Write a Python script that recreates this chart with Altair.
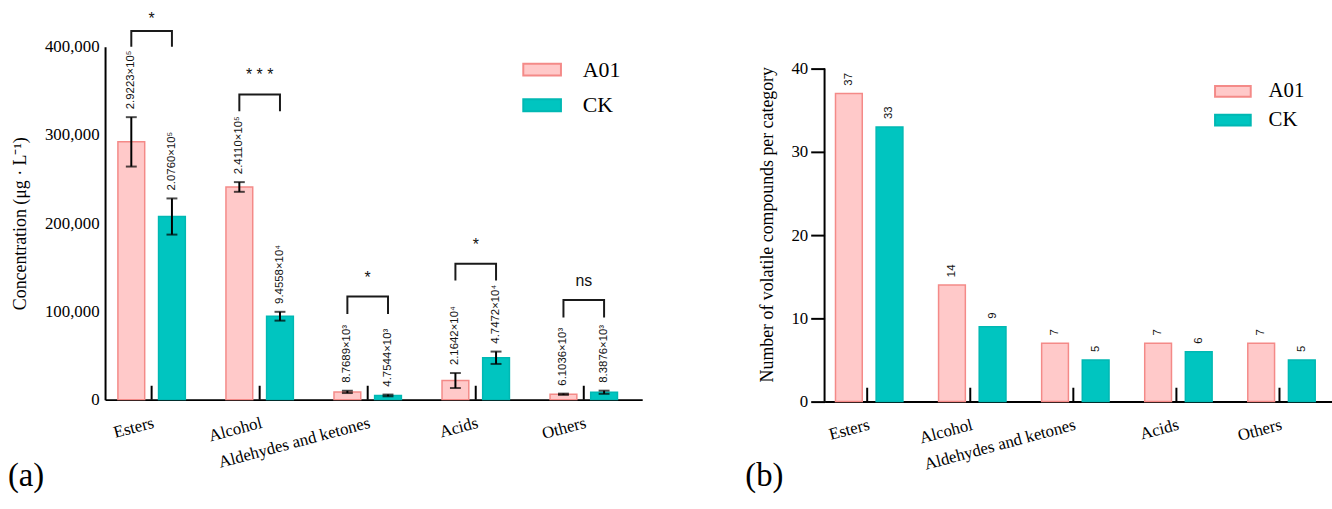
import altair as alt
import pandas as pd

categories = ["Esters", "Alcohol", "Aldehydes and ketones", "Acids", "Others"]
groups = ["A01", "CK"]

# panel (a): concentration
conc_a01 = [292230, 241100, 8768.9, 21642, 6103.6]
conc_ck = [207600, 94558, 4754.4, 47472, 8387.6]
err_a01 = [28000, 5500, 1300, 8500, 700]
err_ck = [20500, 5000, 1000, 7000, 1800]
lab_a01 = ["2.9223×10⁵", "2.4110×10⁵", "8.7689×10³", "2.1642×10⁴", "6.1036×10³"]
lab_ck = ["2.0760×10⁵", "9.4558×10⁴", "4.7544×10³", "4.7472×10⁴", "8.3876×10³"]
sig_marks = ["*", "* * *", "*", "*", "ns"]
sig_top = [418000, 346000, 117000, 154000, 113000]
sig_leg = [400000, 327000, 97000, 135000, 93000]
sig_text_y = [432000, 368000, 138000, 175000, 134000]
y_ticks_a = [0, 100000, 200000, 300000, 400000]

# panel (b): counts
count_a01 = [37, 14, 7, 7, 7]
count_ck = [33, 9, 5, 6, 5]
y_ticks_b = [0, 10, 20, 30, 40]

fills = ["#FFC9C9", "#00C5C0"]
strokes = ["#F48A88", "#00B8B3"]
SERIF = "Liberation Serif"
SANS = "Liberation Sans"

rows = []
for i, c in enumerate(categories):
    rows.append(dict(category=c, group="A01", value=conc_a01[i], lo=conc_a01[i] - err_a01[i],
                     hi=conc_a01[i] + err_a01[i], label=lab_a01[i]))
    rows.append(dict(category=c, group="CK", value=conc_ck[i], lo=conc_ck[i] - err_ck[i],
                     hi=conc_ck[i] + err_ck[i], label=lab_ck[i]))
conc_df = pd.DataFrame(rows)
caps_df = pd.concat([conc_df.assign(cap=conc_df["lo"]), conc_df.assign(cap=conc_df["hi"])])

br_rows = []
for i, c in enumerate(categories):
    br_rows += [dict(category=c, group="A01", yv=sig_leg[i], step=0),
                dict(category=c, group="A01", yv=sig_top[i], step=1),
                dict(category=c, group="CK", yv=sig_top[i], step=2),
                dict(category=c, group="CK", yv=sig_leg[i], step=3)]
br_df = pd.DataFrame(br_rows)
sig_df = pd.DataFrame(dict(category=categories, sig=sig_marks, ty=sig_text_y))
cat_df = pd.DataFrame(dict(category=categories))

cnt_rows = []
for i, c in enumerate(categories):
    cnt_rows.append(dict(category=c, group="A01", n=count_a01[i]))
    cnt_rows.append(dict(category=c, group="CK", n=count_ck[i]))
cnt_df = pd.DataFrame(cnt_rows)

WA, HA = 542, 356
WB, HB = 512, 358
YMAX_B = 42.62


def xenc(pi, po, al):
    return alt.X("category:N", sort=categories,
                 scale=alt.Scale(paddingInner=pi, paddingOuter=po, align=al),
                 axis=alt.Axis(title=None, labelAngle=345, labelAlign="right", labelBaseline="top",
                               labelPadding=15, ticks=False, labelFont=SERIF, labelFontSize=17,
                               labelColor="black", domainColor="black", domainWidth=2,
                               labelOverlap=False, labelLimit=400, labelBound=False))


def xoff(pi):
    return alt.XOffset("group:N", sort=groups, scale=alt.Scale(paddingInner=pi, paddingOuter=0))


def yenc_a(field):
    return alt.Y(field, scale=alt.Scale(domain=[0, 400000], nice=False),
                 axis=alt.Axis(values=y_ticks_a, labelExpr="format(datum.value, ',')",
                               title="Concentration (μg · L⁻¹)",
                               ticks=False, labelPadding=6, labelFont=SERIF, labelFontSize=17,
                               labelColor="black", domainColor="black", domainWidth=2, grid=False,
                               titleFont=SERIF, titleFontSize=18, titleFontWeight="normal",
                               titleColor="black", titlePadding=15))


def yenc_b(field):
    return alt.Y(field, scale=alt.Scale(domain=[0, YMAX_B], nice=False),
                 axis=alt.Axis(values=y_ticks_b, title="Number of volatile compounds per category",
                               domain=False, tickSize=14, tickWidth=2, tickColor="black",
                               labelPadding=3, labelFont=SERIF, labelFontSize=17,
                               labelColor="black", grid=False,
                               titleFont=SERIF, titleFontSize=18, titleFontWeight="normal",
                               titleColor="black", titlePadding=15))


def legend(x, y, path, size, fs, rowpad, loff):
    return alt.Legend(title=None, orient="none", legendX=x, legendY=y, symbolType=path,
                      symbolSize=size, symbolStrokeWidth=2, labelFont=SERIF, labelFontSize=fs,
                      labelColor="black", labelOffset=loff, rowPadding=rowpad, padding=0)


# ---------- panel (a)
XA = dict(pi=0.376, po=0.174, al=0.342)
XOA = 0.341
leg_a = legend(421, 3, "M-1,-0.316H1V0.316H-1Z", 1444, 22, 5, 21)

bars_a = alt.Chart(conc_df).mark_bar(strokeWidth=1.5).encode(
    x=xenc(**XA), xOffset=xoff(XOA), y=yenc_a("value:Q"),
    color=alt.Color("group:N", scale=alt.Scale(domain=groups, range=fills), legend=leg_a),
    stroke=alt.Stroke("group:N", scale=alt.Scale(domain=groups, range=strokes), legend=leg_a),
)
err_a = alt.Chart(conc_df).mark_rule(color="black", strokeWidth=2).encode(
    x=xenc(**XA), xOffset=xoff(XOA), y=yenc_a("lo:Q"), y2="hi:Q")
caps_a = alt.Chart(caps_df).mark_tick(color="black", orient="horizontal", size=11, thickness=2).encode(
    x=xenc(**XA), xOffset=xoff(XOA), y=yenc_a("cap:Q"))
vlab_a = alt.Chart(conc_df).mark_text(angle=270, align="left", baseline="middle", dx=8,
                                      font=SANS, fontSize=11.5, color="#111").encode(
    x=xenc(**XA), xOffset=xoff(XOA), y=yenc_a("hi:Q"), text="label:N")
ticks_a = alt.Chart(cat_df).mark_rule(color="black", strokeWidth=2).encode(
    x=xenc(**XA), y=alt.value(HA), y2=alt.value(HA - 14))
br_a = alt.Chart(br_df).mark_line(color="#1a1a1a", strokeWidth=2, strokeJoin="miter").encode(
    x=xenc(**XA), xOffset=xoff(XOA), y=yenc_a("yv:Q"), detail="category:N", order="step:Q")
sig_a = alt.Chart(sig_df).mark_text(font=SANS, fontSize=16, color="#111", baseline="middle").encode(
    x=xenc(**XA), y=yenc_a("ty:Q"), text="sig:N")
tag_a = alt.Chart(pd.DataFrame(dict(t=["(a)"]))).mark_text(
    font=SERIF, fontSize=33, align="left", baseline="alphabetic", color="black").encode(
    x=alt.value(-98), y=alt.value(443), text="t:N")

panel_a = alt.layer(bars_a, err_a, caps_a, vlab_a, ticks_a, br_a, sig_a, tag_a).properties(
    width=WA, height=HA)

# ---------- panel (b)
XB = dict(pi=0.385, po=0.154, al=0.344)
XOB = 0.338
leg_b = legend(393, 26, "M-1,-0.3H1V0.3H-1Z", 1296, 21, 0, 17)

bars_b = alt.Chart(cnt_df).mark_bar(strokeWidth=1.5).encode(
    x=xenc(**XB), xOffset=xoff(XOB), y=yenc_b("n:Q"),
    color=alt.Color("group:N", scale=alt.Scale(domain=groups, range=fills), legend=leg_b),
    stroke=alt.Stroke("group:N", scale=alt.Scale(domain=groups, range=strokes), legend=leg_b),
)
vlab_b = alt.Chart(cnt_df).mark_text(angle=270, align="left", baseline="middle", dx=8,
                                     font=SANS, fontSize=11.5, color="#111").encode(
    x=xenc(**XB), xOffset=xoff(XOB), y=yenc_b("n:Q"), text="n:Q")
ticks_b = alt.Chart(cat_df).mark_rule(color="black", strokeWidth=2).encode(
    x=xenc(**XB), y=alt.value(HB), y2=alt.value(HB - 14))
axis_b = alt.Chart(pd.DataFrame(dict(y0=[y_ticks_b[0]], y1=[y_ticks_b[-1]]))).mark_rule(
    color="black", strokeWidth=2).encode(x=alt.value(0), y=yenc_b("y0:Q"), y2="y1:Q")
tag_b = alt.Chart(pd.DataFrame(dict(t=["(b)"]))).mark_text(
    font=SERIF, fontSize=33, align="left", baseline="alphabetic", color="black").encode(
    x=alt.value(-80), y=alt.value(443), text="t:N")

panel_b = alt.layer(bars_b, vlab_b, ticks_b, axis_b, tag_b).properties(width=WB, height=HB)

chart = alt.hconcat(panel_a, panel_b, spacing=104).resolve_scale(
    color="independent", stroke="independent", x="independent", y="independent"
).resolve_legend(color="independent", stroke="independent").properties(
    padding={"left": 8, "top": 8, "right": 0, "bottom": 0}
).configure_view(stroke=None)

chart.save("out.html", embed_options={"renderer": "svg", "actions": False})
